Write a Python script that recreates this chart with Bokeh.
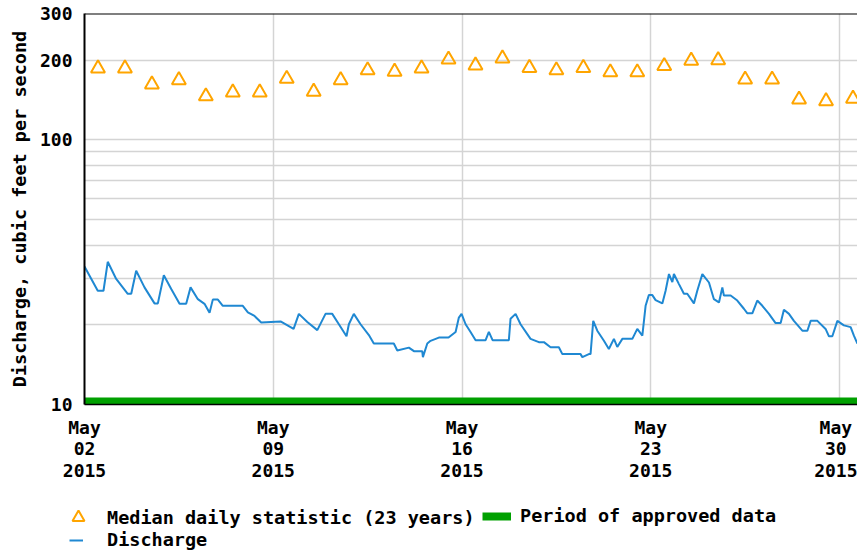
import pandas as pd
from bokeh.plotting import figure
from bokeh.layouts import column
from bokeh.models import (Range1d, FixedTicker, DatetimeTickFormatter, Legend,
                          LegendItem, Span)
from bokeh.embed import file_html
from bokeh.resources import INLINE

# ---------------- data ----------------
x_start = "2015-05-02 00:00"
x_end = "2015-05-30 16:00"
x_tick_dates = ["2015-05-02", "2015-05-09", "2015-05-16", "2015-05-23", "2015-05-30"]
y_ticks = [10, 100, 200, 300]
y_minor_ticks = [20, 30, 40, 50, 60, 70, 80, 90]

median_days = list(range(2, 31))  # day of May, plotted at noon
median_cfs = [186, 186, 162, 168, 146, 151, 151, 170, 152, 168, 183, 181, 186, 201,
              191, 203, 187, 183, 187, 180, 180, 190, 199, 200, 169, 169, 142, 140, 143]

discharge_hours = [0, 11.8, 16.9, 20.7, 28.2, 38.5, 41.6, 46.0, 53.4, 62.3,
                   65.3, 70.6, 77.2, 84.6, 90.5, 94.4, 100.9, 106.8, 111.3, 114.2,
                   118.7, 123.1, 140.9, 145.4, 151.3, 157.3, 174.5, 186.1, 190.8, 198.3,
                   207.2, 214.5, 220.5, 226.4, 233.2, 235.3, 239.7, 245.7, 253.1, 257.5,
                   275.3, 278.4, 288.7, 293.2, 300.6, 301.2, 305.1, 308.0, 315.4, 324.0,
                   330.3, 333.2, 335.6, 339.2, 343.6, 348.1, 357.0, 359.9, 363.2, 377.7,
                   379.2, 383.7, 388.1, 397.0, 404.4, 408.9, 414.8, 422.2, 425.3, 441.5,
                   443.1, 448.9, 450.4, 452.8, 456.4, 462.3, 466.7, 471.2, 474.2, 478.7,
                   487.6, 492.0, 496.5, 499.4, 502.3, 505.4, 508.3, 514.3, 517.2, 520.2,
                   523.2, 524.6, 529.1, 533.5, 536.5, 542.4, 545.4, 549.9, 555.8, 560.2,
                   564.7, 567.7, 569.1, 575.1, 581.0, 586.9, 590.0, 594.4, 598.8, 603.3,
                   609.2, 615.1, 619.6, 622.5, 627.0, 631.4, 638.9, 643.4, 646.3, 652.3,
                   659.6, 662.6, 665.6, 670.1, 675.9, 681.9, 684.8, 687.9]
discharge_cfs = [33.2, 26.9, 26.9, 34.6, 29.8, 26.2, 26.2, 32.0, 27.7, 24.1,
                 24.1, 30.8, 27.3, 24.0, 24.0, 27.7, 25.0, 24.0, 22.2, 24.9,
                 24.9, 23.6, 23.6, 22.3, 21.6, 20.4, 20.6, 19.3, 22.0, 20.5,
                 19.1, 22.0, 22.0, 20.1, 18.1, 20.1, 22.0, 20.1, 18.3, 17.0,
                 17.0, 16.0, 16.4, 15.9, 15.9, 15.1, 17.0, 17.4, 17.9, 17.9,
                 18.8, 21.3, 22.0, 20.1, 18.8, 17.5, 17.5, 18.8, 17.5, 17.5,
                 21.1, 22.0, 20.1, 17.7, 17.2, 17.2, 16.45, 16.45, 15.5, 15.5,
                 15.1, 15.5, 15.5, 20.7, 19.0, 17.4, 16.2, 17.7, 16.5, 17.7,
                 17.7, 19.3, 18.2, 23.6, 25.9, 25.9, 24.8, 24.1, 26.9, 31.1,
                 29.0, 31.1, 28.5, 26.2, 26.2, 24.1, 26.9, 31.1, 28.9, 25.0,
                 24.3, 27.7, 25.8, 25.8, 24.7, 23.0, 22.1, 22.1, 24.7, 23.6,
                 22.0, 20.3, 20.3, 22.8, 22.0, 20.7, 19.0, 19.0, 20.7, 20.7,
                 19.3, 18.1, 18.1, 20.7, 19.9, 19.6, 18.2, 17.0]

approved_start = "2015-05-02 00:00"
approved_end = "2015-05-31 00:00"
approved_level = 10

legend_labels = ["Median daily statistic (23 years)", "Period of approved data", "Discharge"]

# ---------------- styles ----------------
FONT = "DejaVu Sans Mono"
FS = "18px"
FS_WIDE = "18.5px"
ORANGE = "#FFA500"
BLUE = "#1f88d2"
GREEN = "#00a000"
GRID = "#d4d4d4"
W = 857

t0 = pd.Timestamp(x_start)
med_x = [pd.Timestamp(2015, 5, d, 12) for d in median_days]
dis_x = [t0 + pd.Timedelta(hours=h) for h in discharge_hours]
tick_ms = [pd.Timestamp(d).value // 10**6 for d in x_tick_dates]

p = figure(width=W, height=490, x_axis_type="datetime", y_axis_type="log",
           x_range=Range1d(pd.Timestamp(x_start), pd.Timestamp(x_end)),
           y_range=Range1d(10, 300),
           output_backend="svg", toolbar_location=None,
           min_border_left=84, min_border_right=0, min_border_top=13,
           min_border_bottom=86)
p.outline_line_color = None
p.frame_align = False

# grid
p.xgrid.ticker = FixedTicker(ticks=tick_ms)
p.xgrid.grid_line_color = GRID
p.xgrid.grid_line_width = 1.5
p.ygrid.grid_line_color = GRID
p.ygrid.grid_line_width = 1.5
p.ygrid.minor_grid_line_color = GRID
p.ygrid.minor_grid_line_width = 1.5

# axes
xa = p.xaxis[0]
xa.ticker = FixedTicker(ticks=tick_ms)
xa.formatter = DatetimeTickFormatter(days="%b\n%d\n%Y", months="%b\n%d\n%Y")
xa.major_tick_out = 0
xa.major_tick_in = 0
xa.minor_tick_out = 0
xa.minor_tick_in = 0
xa.major_label_standoff = 12
xa.major_label_text_font = FONT
xa.major_label_text_font_style = "bold"
xa.major_label_text_font_size = FS
xa.major_label_text_line_height = 1.03
xa.major_label_text_color = "black"
xa.axis_line_color = "black"
xa.axis_line_width = 1.5

ya = p.yaxis[0]
ya.ticker = FixedTicker(ticks=y_ticks, minor_ticks=y_minor_ticks)
ya.major_tick_out = 0
ya.major_tick_in = 0
ya.minor_tick_out = 0
ya.minor_tick_in = 0
ya.major_label_standoff = 12
ya.major_label_text_font = FONT
ya.major_label_text_font_style = "bold"
ya.major_label_text_font_size = FS
ya.major_label_text_color = "black"
ya.axis_line_color = "black"
ya.axis_line_width = 2
ya.axis_label = "Discharge, cubic feet per second"
ya.axis_label_text_font = FONT
ya.axis_label_text_font_style = "bold"
ya.axis_label_text_font_size = FS_WIDE
ya.axis_label_text_color = "black"
ya.axis_label_standoff = 7

# top border
p.add_layout(Span(location=300, dimension="width", line_color="black", line_width=2))

# glyphs
appr_x0 = [pd.Timestamp(approved_start)]
appr_x1 = [pd.Timestamp(approved_end)]
p.segment(x0=appr_x0, y0=[approved_level], x1=appr_x1, y1=[approved_level],
          line_color=GREEN, line_width=14)
p.line(dis_x, discharge_cfs, line_color=BLUE, line_width=2)
p.scatter(med_x, median_cfs, marker="triangle", size=14,
          line_color=ORANGE, fill_color=None, line_width=2)

# ---------------- legend strip (its own figure, glyphs fall outside its ranges) ----------------
lf = figure(width=W, height=64, x_range=Range1d(0, 1), y_range=Range1d(0, 1),
            x_axis_location=None, y_axis_location=None,
            output_backend="svg", toolbar_location=None, min_border=0)
lf.outline_line_color = None
lf.grid.visible = False
lf.frame_align = False
r_tri = lf.scatter(med_x[:1], median_cfs[:1], marker="triangle", size=12,
                   line_color=ORANGE, fill_color=None, line_width=2)
r_app = lf.line(appr_x0 + appr_x1, [approved_level] * 2, line_color=GREEN, line_width=8)
r_dis = lf.line(dis_x[:2], discharge_cfs[:2], line_color=BLUE, line_width=2)


def mk_legend(label, rend, loc, gw, gh, standoff):
    leg = Legend(items=[LegendItem(label=label, renderers=[rend])], location=loc,
                 orientation="horizontal", glyph_width=gw, glyph_height=gh,
                 label_height=gh, label_standoff=standoff, padding=0, margin=0,
                 spacing=0, border_line_color=None, background_fill_alpha=0,
                 label_text_font=FONT, label_text_font_style="bold",
                 label_text_font_size=FS_WIDE, label_text_color="black")
    lf.add_layout(leg)


mk_legend(legend_labels[0], r_tri, (63, 22), 30, 30, 14)
mk_legend(legend_labels[1], r_app, (482, 28), 29, 18, 9)
mk_legend(legend_labels[2], r_dis, (69, 4), 14, 18, 24)

layout = column(p, lf, spacing=0)
open("out.html", "w").write(file_html(layout, INLINE))
